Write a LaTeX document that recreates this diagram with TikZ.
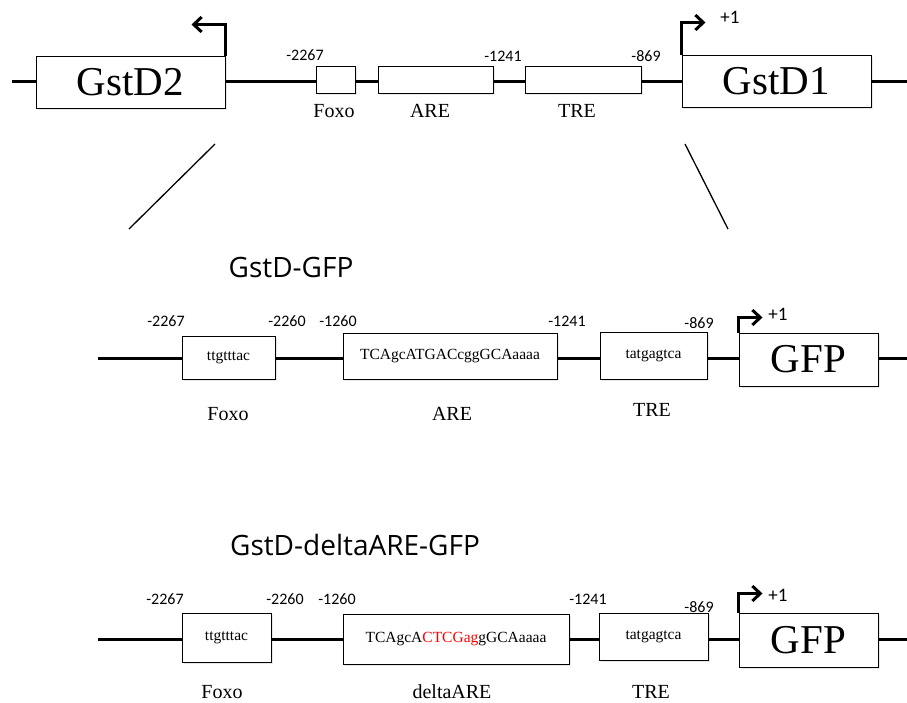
\documentclass[tikz,border=0pt]{standalone}
\usepackage{fontspec}
\setmainfont{Liberation Serif}
\newfontfamily\numfont{Carlito}
\newfontfamily\titlefont{Open Sans}
\usetikzlibrary{arrows.meta,shadows}

\tikzset{
  dna/.style={line width=3pt},
  slant/.style={line width=1.3pt},
  promoter/.style={line width=3pt, -{Straight Barb[length=8pt,width=15pt]}},
  gbox/.style={draw, line width=1pt, fill=white, inner sep=0pt,
    drop shadow={shadow xshift=1.5pt, shadow yshift=-1.5pt, fill=black!18}},
  genetxt/.style={font=\fontsize{41}{45}\selectfont},
  seqtxt/.style={font=\fontsize{15.5}{18}\selectfont},
  lbl/.style={font=\fontsize{20}{24}\selectfont},
  coordtxt/.style={font=\numfont\fontsize{16}{19}\selectfont},
  tss/.style={font=\numfont\fontsize{19}{22}\selectfont},
  ttl/.style={font=\titlefont\fontsize{28}{32}\selectfont},
}

\begin{document}
\begin{tikzpicture}[x=1pt, y=-1pt]
\useasboundingbox (0,0) rectangle (907,702);

% ---------- genomic locus ----------
\coordinate (t0) at (12,81);
\coordinate (t9) at (907,81);
\node[gbox, minimum width=189, minimum height=52, genetxt] (gstd2) at (130.5,82) {GstD2};
\node[gbox, minimum width=39, minimum height=27] (tfoxo) at (335.5,80) {};
\node[gbox, minimum width=115, minimum height=27] (tare) at (435.5,80) {};
\node[gbox, minimum width=116, minimum height=27] (ttre) at (583,80) {};
\node[gbox, minimum width=189, minimum height=52, genetxt] (gstd1) at (776.5,81) {GstD1};

\draw[dna] (t0) -- (t0 -| gstd2.west);
\draw[dna] (gstd2.east |- t0) -- (tfoxo.west |- t0);
\draw[dna] (tfoxo.east |- t0) -- (tare.west |- t0);
\draw[dna] (tare.east |- t0) -- (ttre.west |- t0);
\draw[dna] (ttre.east |- t0) -- (gstd1.west |- t0);
\draw[dna] (gstd1.east |- t0) -- (t9);

\draw[promoter] (gstd2.north east) -- ++(0,-31) -- ++(-34,0);
\draw[promoter] (gstd1.north west) -- ++(0,-32) -- ++(24,0);
\node[tss] (tp1) at (730,17) {+1};

\node[coordtxt] (tn1) at (305,55) {-2267};
\node[coordtxt] (tn2) at (503,56) {-1241};
\node[coordtxt] (tn3) at (646,56) {-869};

\node[lbl] (tl1) at (334,111) {Foxo};
\node[lbl] (tl2) at (430,111) {ARE};
\node[lbl] (tl3) at (577,111) {TRE};

% zoom lines
\coordinate (z1a) at (215,144);
\coordinate (z1b) at (129,229);
\coordinate (z2a) at (685,144);
\coordinate (z2b) at (728,229);
\draw[slant] (z1a) -- (z1b);
\draw[slant] (z2a) -- (z2b);

% ---------- GstD-GFP reporter ----------
\node[ttl] (ttl1) at (291,267) {GstD-GFP};

\coordinate (m0) at (98,358);
\coordinate (m9) at (907,358);
\node[gbox, minimum width=93, minimum height=43, seqtxt] (mfoxo) at (228.5,357.5) {ttgtttac};
\node[gbox, minimum width=214, minimum height=46, seqtxt] (mare) at (450,356) {TCAgcATGACcggGCAaaaa};
\node[gbox, minimum width=107, minimum height=47, seqtxt] (mtre) at (653.5,355.5) {tatgagtca};
\node[gbox, minimum width=139, minimum height=53, genetxt] (mgfp) at (808.5,359.5) {GFP};

\draw[dna] (m0) -- (m0 -| mfoxo.west);
\draw[dna] (mfoxo.east |- m0) -- (mare.west |- m0);
\draw[dna] (mare.east |- m0) -- (mtre.west |- m0);
\draw[dna] (mtre.east |- m0) -- (mgfp.west |- m0);
\draw[dna] (mgfp.east |- m0) -- (m9);

\draw[promoter] (mgfp.north west) -- ++(0,-15) -- ++(24,0);
\node[tss] (mp1) at (778,314) {+1};

\node[coordtxt] (mn1) at (166,321) {-2267};
\node[coordtxt] (mn2) at (287,321) {-2260};
\node[coordtxt] (mn3) at (338,321) {-1260};
\node[coordtxt] (mn4) at (567,321) {-1241};
\node[coordtxt] (mn5) at (699,323) {-869};

\node[lbl] (ml1) at (228,414) {Foxo};
\node[lbl] (ml2) at (452,414) {ARE};
\node[lbl] (ml3) at (652,410) {TRE};

% ---------- GstD-deltaARE-GFP reporter ----------
\node[ttl] (ttl2) at (355,545) {GstD-deltaARE-GFP};

\coordinate (b0) at (98,639);
\coordinate (b9) at (907,639);
\node[gbox, minimum width=89, minimum height=49, seqtxt] (bfoxo) at (226.5,637.5) {ttgtttac};
\node[gbox, minimum width=226, minimum height=50, seqtxt] (bare) at (456,639) {TCAgcA\textcolor{red}{CTCGag}gGCAaaaa};
\node[gbox, minimum width=109, minimum height=47, seqtxt] (btre) at (653.5,636.5) {tatgagtca};
\node[gbox, minimum width=139, minimum height=54, genetxt] (bgfp) at (808.5,640) {GFP};

\draw[dna] (b0) -- (b0 -| bfoxo.west);
\draw[dna] (bfoxo.east |- b0) -- (bare.west |- b0);
\draw[dna] (bare.east |- b0) -- (btre.west |- b0);
\draw[dna] (btre.east |- b0) -- (bgfp.west |- b0);
\draw[dna] (bgfp.east |- b0) -- (b9);

\draw[promoter] (bgfp.north west) -- ++(0,-19) -- ++(24,0);
\node[tss] (bp1) at (778,595) {+1};

\node[coordtxt] (bn1) at (165,599) {-2267};
\node[coordtxt] (bn2) at (285,599) {-2260};
\node[coordtxt] (bn3) at (337,599) {-1260};
\node[coordtxt] (bn4) at (588,599) {-1241};
\node[coordtxt] (bn5) at (699,607) {-869};

\node[lbl] (bl1) at (222,692) {Foxo};
\node[lbl] (bl2) at (452,692) {deltaARE};
\node[lbl] (bl3) at (651,692) {TRE};
\end{tikzpicture}
\end{document}
